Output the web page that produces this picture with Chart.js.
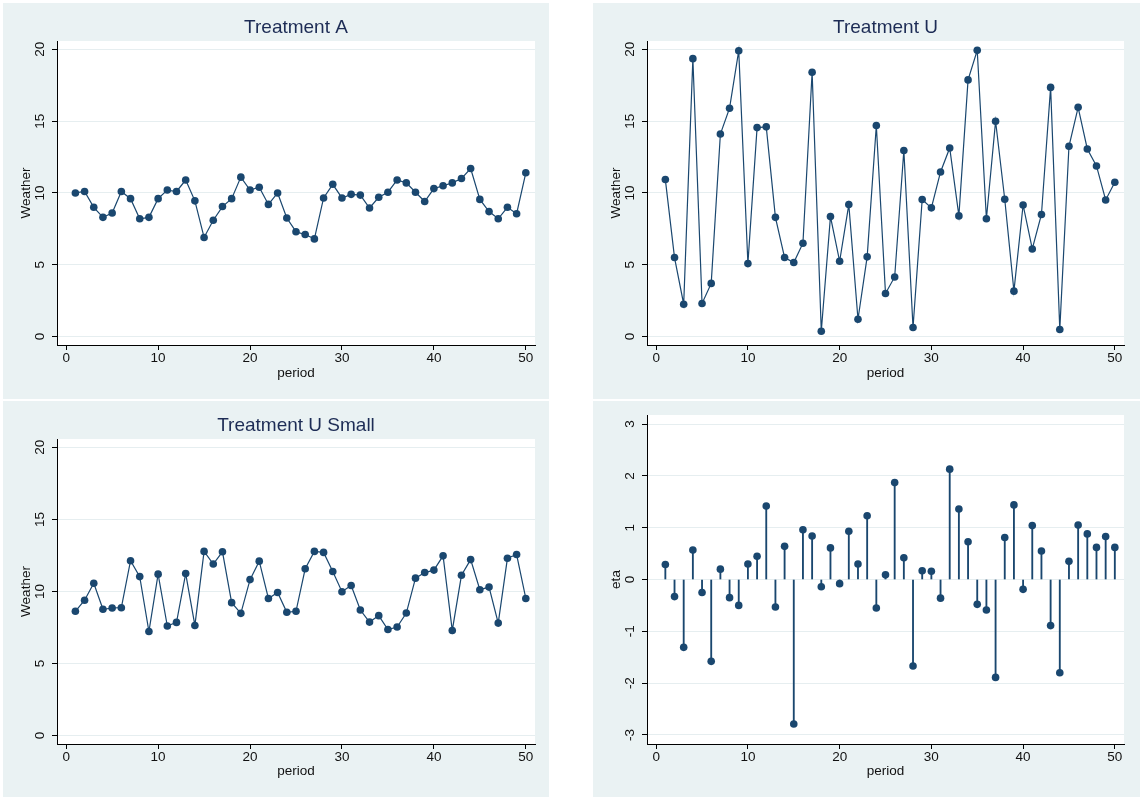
<!DOCTYPE html>
<html><head><meta charset="utf-8">
<script src="https://cdn.jsdelivr.net/npm/chart.js@4/dist/chart.umd.min.js"></script>
<style>
html,body{margin:0;padding:0;background:#fff;}
body{width:1140px;height:797px;position:relative;overflow:hidden;}
.panel{position:absolute;background:#EAF2F3;}
.panel canvas{position:absolute;left:0;top:0;}
</style></head><body>
<div class="panel" style="left:3px;top:3px;width:546px;height:396px"><canvas id="c1" width="546" height="396"></canvas></div>
<div class="panel" style="left:593px;top:3px;width:547px;height:396px"><canvas id="c2" width="547" height="396"></canvas></div>
<div class="panel" style="left:3px;top:401px;width:546px;height:396px"><canvas id="c3" width="546" height="396"></canvas></div>
<div class="panel" style="left:593px;top:401px;width:547px;height:396px"><canvas id="c4" width="547" height="396"></canvas></div>
<script>
// ---- data ----
const periods = [1,2,3,4,5,6,7,8,9,10,11,12,13,14,15,16,17,18,19,20,21,22,23,24,25,26,27,28,29,30,31,32,33,34,35,36,37,38,39,40,41,42,43,44,45,46,47,48,49,50];
const weatherA = [10.0,10.1,9.0,8.3,8.6,10.1,9.6,8.2,8.3,9.6,10.2,10.1,10.9,9.45,6.9,8.1,9.05,9.6,11.1,10.2,10.4,9.2,10.0,8.25,7.3,7.1,6.8,9.65,10.6,9.65,9.9,9.85,8.95,9.7,10.05,10.9,10.7,10.05,9.4,10.3,10.5,10.7,11.0,11.7,9.55,8.7,8.2,9.0,8.55,11.4];
const weatherU = [10.93,5.5,2.25,19.35,2.3,3.7,14.1,15.9,19.9,5.08,14.55,14.6,8.3,5.5,5.15,6.5,18.4,0.37,8.35,5.24,9.19,1.2,5.55,14.7,3.0,4.15,12.95,0.63,9.54,8.96,11.46,13.13,8.4,17.87,19.93,8.2,14.99,9.56,3.16,9.16,6.1,8.5,17.35,0.49,13.25,15.96,13.06,11.88,9.51,10.74];
const weatherUSmall = [8.62,9.39,10.57,8.76,8.85,8.87,12.13,11.03,7.22,11.2,7.6,7.85,11.24,7.64,12.78,11.9,12.75,9.22,8.48,10.82,12.1,9.51,9.93,8.55,8.62,11.57,12.78,12.71,11.38,9.98,10.41,8.71,7.87,8.32,7.36,7.53,8.5,10.92,11.31,11.48,12.47,7.29,11.12,12.21,10.12,10.3,7.8,12.3,12.56,9.51];
const eta = [0.29,-0.33,-1.31,0.57,-0.25,-1.58,0.2,-0.35,-0.5,0.3,0.45,1.42,-0.53,0.64,-2.79,0.96,0.84,-0.14,0.61,-0.08,0.93,0.3,1.23,-0.55,0.09,1.87,0.42,-1.67,0.17,0.16,-0.36,2.13,1.36,0.73,-0.48,-0.59,-1.89,0.81,1.44,-0.19,1.04,0.55,-0.89,-1.8,0.35,1.05,0.88,0.62,0.83,0.62];
const periodTicks = [0,10,20,30,40,50];
const weatherTicks = [0,5,10,15,20];
const weatherTickLabels = ['0','5','10','15','20'];
const etaTicks = [-3,-2,-1,0,1,2,3];
const etaTickLabels = ['-3','-2','-1','0','1','2','3'];

// ---- styling ----
const F = '"Liberation Sans", Arial, sans-serif';
const NAVY = '#1a476f';
const TXT = '#111111';
const GRID = '#E6EEF0';

const plotBg = {
  id: 'plotBg',
  beforeDraw(chart) {
    const a = chart.chartArea, ctx = chart.ctx;
    ctx.save(); ctx.fillStyle = '#ffffff';
    ctx.fillRect(a.left, a.top, a.right - a.left, a.bottom - a.top);
    ctx.restore();
  }
};
const rotYTicks = {
  id: 'rotYTicks',
  afterDraw(chart, args, opts) {
    const s = chart.scales.y, ctx = chart.ctx;
    ctx.save();
    ctx.font = '13.5px ' + F;
    ctx.fillStyle = TXT;
    ctx.textAlign = 'center';
    ctx.textBaseline = 'middle';
    s.ticks.forEach((t, i) => {
      const y = s.getPixelForTick(i);
      ctx.save();
      ctx.translate(opts.x, y);
      ctx.rotate(-Math.PI / 2);
      ctx.fillText(opts.labels[i], 0, 0);
      ctx.restore();
    });
    ctx.restore();
  }
};

function toXY(ys) { return periods.map((p, i) => ({x: p, y: ys[i]})); }

function makeChart(id, cfg) {
  const xScale = {
    type: 'linear', min: -1, max: 51, offset: false,
    afterBuildTicks: s => { s.ticks = periodTicks.map(v => ({value: v})); },
    afterFit: s => { s.height = cfg.xHeight; },
    grid: {drawOnChartArea: false, drawTicks: true, tickLength: 5, tickColor: '#000', offset: false},
    border: {display: true, color: '#000', width: 1},
    ticks: {font: {family: F, size: 13.5, lineHeight: '16px'}, color: TXT, padding: 0, maxRotation: 0, minRotation: 0, autoSkip: false},
    title: {display: true, text: 'period', color: TXT, font: {family: F, size: 13.5, lineHeight: '16px'}, padding: {top: 0, bottom: 18}}
  };
  const yScale = {
    type: 'linear', min: cfg.yMin, max: cfg.yMax,
    afterBuildTicks: s => { s.ticks = cfg.yTicks.map(v => ({value: v})); },
    afterFit: s => { s.width = 54; },
    grid: {color: GRID, lineWidth: 1, drawTicks: true, tickLength: 5, tickColor: '#000'},
    border: {display: true, color: '#000', width: 1},
    ticks: {display: false},
    title: {display: true, text: cfg.yTitle, color: TXT, font: {family: F, size: 13.5, lineHeight: '16px'}, padding: {top: 15, bottom: 0}}
  };
  return new Chart(document.getElementById(id), {
    type: 'line',
    data: {datasets: cfg.datasets},
    options: {
      responsive: false, animation: false, devicePixelRatio: 1,
      layout: {padding: {left: 0, right: cfg.padRight, top: cfg.padTop, bottom: 0}},
      scales: {x: xScale, y: yScale},
      plugins: {
        legend: {display: false}, tooltip: {enabled: false},
        title: cfg.title ? {display: true, text: cfg.title, fullSize: false, color: '#1d2c55',
          font: {family: F, size: 19, weight: 'normal', lineHeight: '22px'}, padding: {top: 14, bottom: 2}} : {display: false},
        rotYTicks: {x: 37, labels: cfg.yLabels}
      }
    },
    plugins: [plotBg, rotYTicks]
  });
}

function lineSet(ys) {
  return {data: toXY(ys), borderColor: NAVY, borderWidth: 1.2, tension: 0, fill: false,
    pointRadius: 3.8, pointBackgroundColor: NAVY, pointBorderWidth: 0, pointHoverRadius: 3.8};
}

makeChart('c1', {title: 'Treatment A', yTitle: 'Weather', yMin: -0.59, yMax: 20.58, yTicks: weatherTicks, yLabels: weatherTickLabels,
  padRight: 14, padTop: 0, xHeight: 54, datasets: [lineSet(weatherA)]});
makeChart('c2', {title: 'Treatment U', yTitle: 'Weather', yMin: -0.59, yMax: 20.58, yTicks: weatherTicks, yLabels: weatherTickLabels,
  padRight: 16, padTop: 0, xHeight: 54, datasets: [lineSet(weatherU)]});
makeChart('c3', {title: 'Treatment U Small', yTitle: 'Weather', yMin: -0.59, yMax: 20.58, yTicks: weatherTicks, yLabels: weatherTickLabels,
  padRight: 14, padTop: 0, xHeight: 53, datasets: [lineSet(weatherUSmall)]});
makeChart('c4', {title: null, yTitle: 'eta', yMin: -3.175, yMax: 3.175, yTicks: etaTicks, yLabels: etaTickLabels,
  padRight: 16, padTop: 14, xHeight: 53, datasets: [
    {type: 'bar', data: toXY(eta), backgroundColor: NAVY, borderWidth: 0, barThickness: 1.2, order: 2},
    {type: 'line', data: toXY(eta), showLine: false, pointRadius: 3.8, pointBackgroundColor: NAVY, pointBorderWidth: 0, order: 1}
  ]});
</script>
</body></html>
